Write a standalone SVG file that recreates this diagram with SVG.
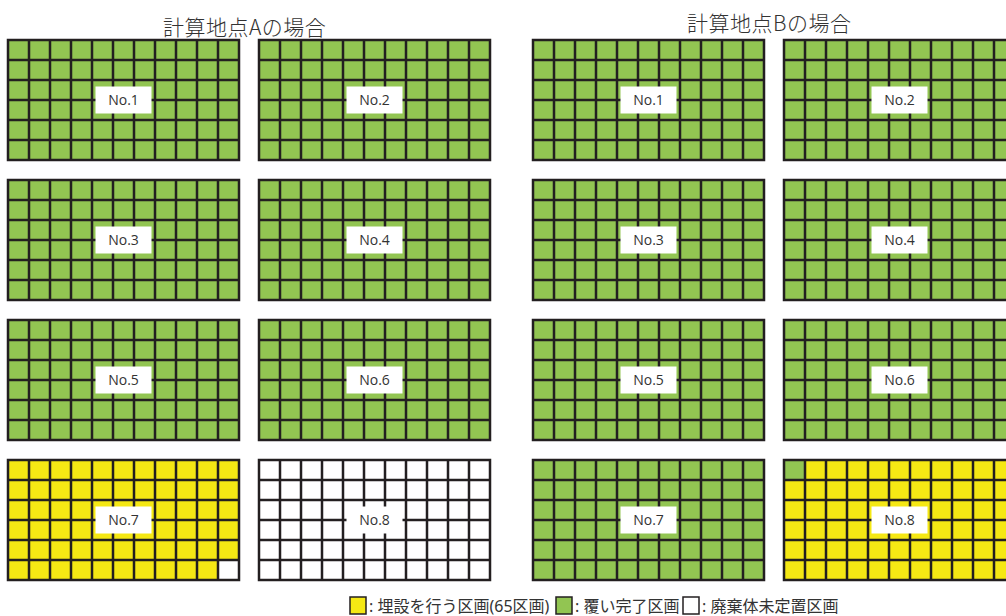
<svg xmlns="http://www.w3.org/2000/svg" xmlns:xlink="http://www.w3.org/1999/xlink" width="1006" height="616" viewBox="0 0 1006 616">
<style>
.title{font-family:"Noto Sans CJK JP","Noto Sans",sans-serif;font-size:21px;fill:#333;font-weight:300;letter-spacing:0.5px}
.lbl{font-family:"Open Sans","Noto Sans",sans-serif;font-size:14px;fill:#333;text-anchor:middle}
.leg{font-family:"Noto Sans","Noto Sans CJK JP",sans-serif;font-size:16px;fill:#333}
.g{fill:#92c552}
.y{fill:#f5e814}
.w{fill:#ffffff}
.grid{stroke:#231f20;stroke-width:2.5;fill:none}
.box{fill:#ffffff}
</style>
<defs>
<path id="grid" class="grid" d="M0,0H231V120H0Z M21,0V120 M42,0V120 M63,0V120 M84,0V120 M105,0V120 M126,0V120 M147,0V120 M168,0V120 M189,0V120 M210,0V120 M0,20H231 M0,40H231 M0,60H231 M0,80H231 M0,100H231"/>
<rect id="lb" x="87.5" y="46.5" width="56" height="27" class="box"/>
</defs>
<text class="title" x="163" y="35">計算地点Aの場合</text>
<text class="title" x="687" y="31">計算地点Bの場合</text>

<g id="A1" transform="translate(8,40)"><rect class="g" width="231" height="120"/><use xlink:href="#grid"/><use xlink:href="#lb"/><text class="lbl" x="115.5" y="65">No.1</text></g>
<g id="A2" transform="translate(259,40)"><rect class="g" width="231" height="120"/><use xlink:href="#grid"/><use xlink:href="#lb"/><text class="lbl" x="115.5" y="65">No.2</text></g>
<g id="A3" transform="translate(8,180)"><rect class="g" width="231" height="120"/><use xlink:href="#grid"/><use xlink:href="#lb"/><text class="lbl" x="115.5" y="65">No.3</text></g>
<g id="A4" transform="translate(259,180)"><rect class="g" width="231" height="120"/><use xlink:href="#grid"/><use xlink:href="#lb"/><text class="lbl" x="115.5" y="65">No.4</text></g>
<g id="A5" transform="translate(8,320)"><rect class="g" width="231" height="120"/><use xlink:href="#grid"/><use xlink:href="#lb"/><text class="lbl" x="115.5" y="65">No.5</text></g>
<g id="A6" transform="translate(259,320)"><rect class="g" width="231" height="120"/><use xlink:href="#grid"/><use xlink:href="#lb"/><text class="lbl" x="115.5" y="65">No.6</text></g>
<g id="A7" transform="translate(8,460)"><rect class="y" width="231" height="120"/><rect class="w" x="210" y="100" width="21" height="20"/><use xlink:href="#grid"/><use xlink:href="#lb"/><text class="lbl" x="115.5" y="65">No.7</text></g>
<g id="A8" transform="translate(259,460)"><rect class="w" width="231" height="120"/><use xlink:href="#grid"/><use xlink:href="#lb"/><text class="lbl" x="115.5" y="65">No.8</text></g>

<g id="B1" transform="translate(533,40)"><rect class="g" width="231" height="120"/><use xlink:href="#grid"/><use xlink:href="#lb"/><text class="lbl" x="115.5" y="65">No.1</text></g>
<g id="B2" transform="translate(784,40)"><rect class="g" width="231" height="120"/><use xlink:href="#grid"/><use xlink:href="#lb"/><text class="lbl" x="115.5" y="65">No.2</text></g>
<g id="B3" transform="translate(533,180)"><rect class="g" width="231" height="120"/><use xlink:href="#grid"/><use xlink:href="#lb"/><text class="lbl" x="115.5" y="65">No.3</text></g>
<g id="B4" transform="translate(784,180)"><rect class="g" width="231" height="120"/><use xlink:href="#grid"/><use xlink:href="#lb"/><text class="lbl" x="115.5" y="65">No.4</text></g>
<g id="B5" transform="translate(533,320)"><rect class="g" width="231" height="120"/><use xlink:href="#grid"/><use xlink:href="#lb"/><text class="lbl" x="115.5" y="65">No.5</text></g>
<g id="B6" transform="translate(784,320)"><rect class="g" width="231" height="120"/><use xlink:href="#grid"/><use xlink:href="#lb"/><text class="lbl" x="115.5" y="65">No.6</text></g>
<g id="B7" transform="translate(533,460)"><rect class="g" width="231" height="120"/><use xlink:href="#grid"/><use xlink:href="#lb"/><text class="lbl" x="115.5" y="65">No.7</text></g>
<g id="B8" transform="translate(784,460)"><rect class="y" width="231" height="120"/><rect class="g" x="0" y="0" width="21" height="20"/><use xlink:href="#grid"/><use xlink:href="#lb"/><text class="lbl" x="115.5" y="65">No.8</text></g>

<g id="legend">
<rect class="y" x="350" y="597" width="16" height="17" stroke="#231f20" stroke-width="1.5"/>
<text class="leg" x="369" y="612">: 埋設を行う区画(65区画)</text>
<rect class="g" x="556" y="597" width="16" height="17" stroke="#231f20" stroke-width="1.5"/>
<text class="leg" x="575" y="612">: 覆い完了区画</text>
<rect class="w" x="683" y="597" width="16" height="17" stroke="#231f20" stroke-width="1.5"/>
<text class="leg" x="702" y="612">: 廃棄体未定置区画</text>
</g>
</svg>
